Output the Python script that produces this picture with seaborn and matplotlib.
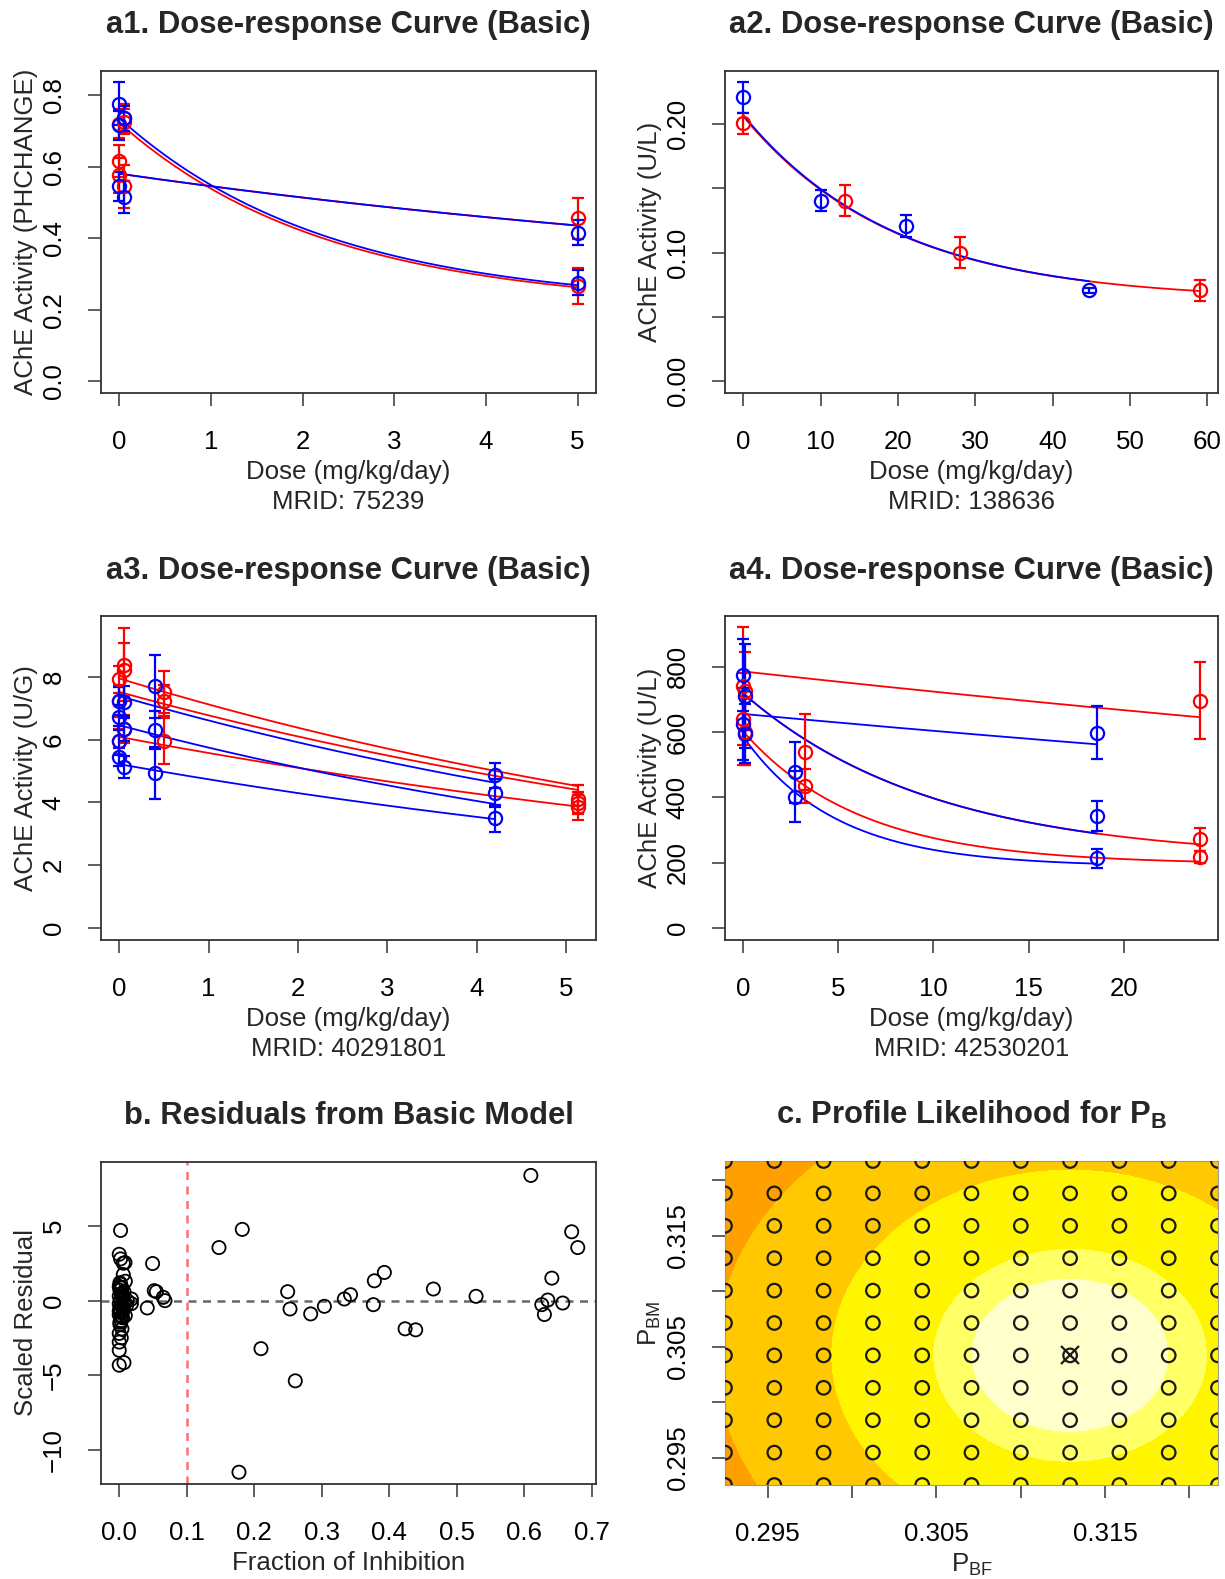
import numpy as np
import pandas as pd
import matplotlib
matplotlib.use('Agg')
import matplotlib.pyplot as plt
import seaborn as sns

sns.set_theme(style='ticks')
plt.rcParams['font.family'] = ['Liberation Sans', 'DejaVu Sans']
plt.rcParams['mathtext.fontset'] = 'custom'
plt.rcParams['mathtext.rm'] = 'Liberation Sans'
plt.rcParams['mathtext.bf'] = 'Liberation Sans:bold'
plt.rcParams['mathtext.it'] = 'Liberation Sans:italic'

BLUE = '#0000FF'
RED = '#FF0000'
FS = 18.6
TFS = 22.3

# ---------------- a1 (MRID 75239) ----------------
a1_blue_dose = [0, 0, 0.05, 0, 0.05, 5, 5]
a1_blue_mean = [0.775, 0.715, 0.735, 0.545, 0.515, 0.415, 0.275]
a1_blue_err = [0.06, 0.04, 0.035, 0.04, 0.045, 0.035, 0.035]
a1_red_dose = [0, 0.05, 0.05, 0, 0, 0.05, 5, 5]
a1_red_mean = [0.72, 0.735, 0.725, 0.615, 0.575, 0.545, 0.455, 0.265]
a1_red_err = [0.04, 0.04, 0.035, 0.045, 0.05, 0.06, 0.058, 0.05]
a1_blue_fit_top = [0.735, 0.58]
a1_blue_fit_floor = [0.21, 0.21]
a1_blue_fit_rate = [0.44, 0.0995]
a1_red_fit_top = [0.722, 0.58]
a1_red_fit_floor = [0.205, 0.21]
a1_red_fit_rate = [0.44, 0.0995]

# ---------------- a2 (MRID 138636) ----------------
a2_blue_dose = [0, 10, 21, 44.7]
a2_blue_mean = [0.221, 0.1405, 0.1205, 0.0705]
a2_blue_err = [0.012, 0.0085, 0.0085, 0.002]
a2_red_dose = [0, 13.1, 28, 59]
a2_red_mean = [0.2005, 0.1405, 0.1, 0.0705]
a2_red_err = [0.0085, 0.012, 0.012, 0.0085]
a2_blue_fit_top = [0.207]
a2_blue_fit_floor = [0.063]
a2_blue_fit_rate = [0.051]
a2_red_fit_top = [0.206]
a2_red_fit_floor = [0.063]
a2_red_fit_rate = [0.051]

# ---------------- a3 (MRID 40291801) ----------------
a3_blue_dose = [0, 0.05, 0, 0.05, 0, 0, 0.05, 0.4, 0.4, 0.4, 4.2, 4.2, 4.2]
a3_blue_mean = [7.23, 7.2, 6.72, 6.35, 5.97, 5.45, 5.12, 7.7, 6.3, 4.93, 4.87, 4.31, 3.5]
a3_blue_err = [0.45, 0.5, 0.4, 0.4, 0.45, 0.3, 0.35, 1.0, 0.6, 0.83, 0.4, 0.45, 0.43]
a3_red_dose = [0, 0.05, 0.05, 0, 0.05, 0, 0.5, 0.5, 0.5, 5.13, 5.13, 5.13]
a3_red_mean = [7.92, 8.39, 8.23, 7.23, 6.33, 5.95, 7.52, 7.24, 5.96, 4.1, 3.97, 3.85]
a3_red_err = [0.42, 1.17, 0.85, 0.5, 0.45, 0.4, 0.66, 0.5, 0.74, 0.45, 0.35, 0.4]
a3_blue_fit_top = [7.39, 6.46, 5.22]
a3_blue_fit_floor = [0, 0, 0]
a3_blue_fit_rate = [0.1113, 0.117, 0.0972]
a3_red_fit_top = [7.95, 7.52, 6.09]
a3_red_fit_floor = [0, 0, 0]
a3_red_fit_rate = [0.110, 0.1045, 0.0884]

# ---------------- a4 (MRID 42530201) ----------------
a4_blue_dose = [0, 0.1, 0, 0.1, 2.7, 2.7, 18.6, 18.6, 18.6]
a4_blue_mean = [775, 710, 625, 595, 476, 401, 598, 343, 213]
a4_blue_err = [110, 160, 110, 90, 92, 78, 82, 45, 28]
a4_red_dose = [0, 0.1, 0, 0.1, 3.27, 3.27, 24, 24, 24]
a4_red_mean = [740, 725, 640, 600, 538, 434, 695, 271, 218]
a4_red_err = [180, 120, 140, 100, 116, 52, 118, 35, 18]
a4_blue_fit_top = [655, 718, 585]
a4_blue_fit_floor = [0, 210, 188]
a4_blue_fit_rate = [0.00823, 0.1, 0.205]
a4_red_fit_top = [785, 718, 601]
a4_red_fit_floor = [0, 210, 195]
a4_red_fit_rate = [0.00818, 0.1, 0.162]

# ---------------- b (residuals) ----------------
b_fraction = [0.6095, 0.670, 0.679, 0.6406, 0.6346, 0.6257, 0.6296, 0.6567, 0.5284,
              0.4652, 0.4233, 0.4390, 0.3926, 0.3778, 0.3763, 0.3425, 0.3333, 0.3038,
              0.2835, 0.2494, 0.2529, 0.2607, 0.2099, 0.1822, 0.1773, 0.1477,
              0.0494, 0.0519, 0.055, 0.0652, 0.0677, 0.0415, 0.018, 0.018,
              0.002, 0.0, 0.002, 0.006, 0.0085, 0.006, 0.002, 0.0, 0.004, 0.001,
              0.007, 0.003, 0.0, 0.005, 0.002, 0.008, 0.0, 0.004, 0.001, 0.006,
              0.002, 0.0, 0.005, 0.003, 0.001, 0.004, 0.0, 0.0, 0.0, 0.0, 0.007,
              0.012, 0.011, 0.009, 0.009, 0.003,
              0.001, 0.004, 0.002, 0.006, 0.0, 0.003, 0.005, 0.001, 0.007, 0.002]
b_residual = [8.4, 4.62, 3.56, 1.51, 0.04, -0.27, -0.93, -0.16, 0.29,
              0.78, -1.89, -1.96, 1.89, 1.33, -0.27, 0.4, 0.11, -0.38,
              -0.89, 0.6, -0.56, -5.38, -3.22, 4.78, -11.51, 3.56,
              2.49, 0.67, 0.6, 0.22, 0.0, -0.49, 0.11, -0.2,
              4.71, 3.11, 2.8, 2.51, 2.55, 1.75, 1.1, 0.95, 0.85, 0.7,
              0.6, 0.45, 0.3, 0.2, 0.05, -0.1, -0.2, -0.35, -0.5, -0.65,
              -0.8, -0.95, -1.15, -1.35, -1.6, -1.9, -2.2, -2.78, -3.33, -4.33, -4.16,
              0.0, -0.3, 1.3, -1.0, -2.5,
              1.2, 0.5, -0.05, -0.45, -0.7, -1.1, 0.35, -1.45, -0.25, 0.9]

# ---------------- c (profile likelihood) ----------------
c_pbf_grid = np.linspace(0.29247, 0.32170, 11)
c_pbm_grid = np.linspace(0.29257, 0.32171, 11)
c_mle = (0.31293, 0.30423)
c_scale = (0.00586, 0.00692)            # deviance curvature scales
c_levels = [0, 1.0, 1.93, 5.86, 12.9, 100]
c_colors = ['#FFFFCC', '#FFFF66', '#FFF500', '#FFC800', '#FFA000']


def fit_frame(tops, floors, rates, dmax):
    rows = []
    for i, (t, f, r) in enumerate(zip(tops, floors, rates)):
        d = np.linspace(0, dmax, 200)
        rows.append(pd.DataFrame({'dose': d, 'act': f + (t - f) * np.exp(-r * d), 'curve': i}))
    return pd.concat(rows, ignore_index=True)


def style_axes(ax):
    for s in ax.spines.values():
        s.set_visible(True)
        s.set_color('#333333')
        s.set_linewidth(1.3)
    ax.tick_params(axis='both', length=9.5, width=1.1, color='#333333',
                   labelsize=FS, labelcolor='black')
    ax.tick_params(axis='x', pad=17)
    ax.tick_params(axis='y', pad=16)
    for lab in ax.get_yticklabels():
        lab.set_rotation(90)
        lab.set_va('center')
        lab.set_ha('right')


def place_labels(ax, xlabel, ylabel, width_px, height_px):
    ax.set_xlabel(xlabel, fontsize=FS, linespacing=1.32)
    ax.set_ylabel(ylabel, fontsize=FS)
    ax.xaxis.set_label_coords(0.5, -67 / height_px)
    ax.xaxis.label.set_va('top')
    ax.yaxis.set_label_coords(-75 / width_px, 0.5)
    ax.yaxis.label.set_va('center')


def dose_panel(ax, bd, bm, be, rd, rm, re_, bfit, rfit, bmax, rmax):
    rdf = fit_frame(*rfit, rmax)
    bdf = fit_frame(*bfit, bmax)
    sns.lineplot(data=rdf, x='dose', y='act', units='curve', estimator=None,
                 color=RED, lw=1.3, ax=ax)
    sns.lineplot(data=bdf, x='dose', y='act', units='curve', estimator=None,
                 color=BLUE, lw=1.3, ax=ax)
    for d, m, e, c in [(rd, rm, re_, RED), (bd, bm, be, BLUE)]:
        ax.errorbar(d, m, yerr=e, fmt='o', mfc='none', mec=c, ecolor=c, ms=9.5,
                    mew=1.6, elinewidth=1.6, capsize=4.5, capthick=1.6)


fig = plt.figure(figsize=(12.25, 15.79), dpi=100)
W, H = 1225, 1579
LX, LW = 101, 495
RX, RW = 725, 493


def add_ax(x, w, top, bottom):
    return fig.add_axes([x / W, 1 - bottom / H, w / W, (bottom - top) / H])


ax1 = add_ax(LX, LW, 71, 393)
ax2 = add_ax(RX, RW, 71, 393)
ax3 = add_ax(LX, LW, 616, 940)
ax4 = add_ax(RX, RW, 616, 940)
axb = add_ax(LX, LW, 1162, 1484)
axc = add_ax(RX, RW, 1161, 1485)

# a1
dose_panel(ax1, a1_blue_dose, a1_blue_mean, a1_blue_err, a1_red_dose, a1_red_mean, a1_red_err,
           (a1_blue_fit_top, a1_blue_fit_floor, a1_blue_fit_rate),
           (a1_red_fit_top, a1_red_fit_floor, a1_red_fit_rate), 5, 5)
ax1.set_xlim(-0.2, 5.2)
ax1.set_ylim(-0.033, 0.867)
ax1.set_xticks([0, 1, 2, 3, 4, 5])
ax1.set_yticks([0, 0.2, 0.4, 0.6, 0.8])
ax1.set_yticklabels(['0.0', '0.2', '0.4', '0.6', '0.8'])

# a2
dose_panel(ax2, a2_blue_dose, a2_blue_mean, a2_blue_err, a2_red_dose, a2_red_mean, a2_red_err,
           (a2_blue_fit_top, a2_blue_fit_floor, a2_blue_fit_rate),
           (a2_red_fit_top, a2_red_fit_floor, a2_red_fit_rate), 44.7, 59)
ax2.set_xlim(-2.36, 61.36)
ax2.set_ylim(-0.0093, 0.2413)
ax2.set_xticks([0, 10, 20, 30, 40, 50, 60])
ax2.set_yticks([0, 0.05, 0.10, 0.15, 0.20])
ax2.set_yticklabels(['0.00', '', '0.10', '', '0.20'])

# a3
dose_panel(ax3, a3_blue_dose, a3_blue_mean, a3_blue_err, a3_red_dose, a3_red_mean, a3_red_err,
           (a3_blue_fit_top, a3_blue_fit_floor, a3_blue_fit_rate),
           (a3_red_fit_top, a3_red_fit_floor, a3_red_fit_rate), 4.2, 5.13)
ax3.set_xlim(-0.205, 5.335)
ax3.set_ylim(-0.382, 9.94)
ax3.set_xticks([0, 1, 2, 3, 4, 5])
ax3.set_yticks([0, 2, 4, 6, 8])

# a4
dose_panel(ax4, a4_blue_dose, a4_blue_mean, a4_blue_err, a4_red_dose, a4_red_mean, a4_red_err,
           (a4_blue_fit_top, a4_blue_fit_floor, a4_blue_fit_rate),
           (a4_red_fit_top, a4_red_fit_floor, a4_red_fit_rate), 18.6, 24)
ax4.set_xlim(-0.96, 24.96)
ax4.set_ylim(-36.7, 954.7)
ax4.set_xticks([0, 5, 10, 15, 20])
ax4.set_yticks([0, 200, 400, 600, 800])

titles = ['a1. Dose-response Curve (Basic)', 'a2. Dose-response Curve (Basic)',
          'a3. Dose-response Curve (Basic)', 'a4. Dose-response Curve (Basic)']
ylabels = ['AChE Activity (PHCHANGE)', 'AChE Activity (U/L)',
           'AChE Activity (U/G)', 'AChE Activity (U/L)']
mrids = ['75239', '138636', '40291801', '42530201']
for ax, t, yl, m, w, h in zip([ax1, ax2, ax3, ax4], titles, ylabels, mrids,
                              [LW, RW, LW, RW], [322, 322, 324, 324]):
    style_axes(ax)
    ax.set_title(t, fontsize=TFS, fontweight='bold', pad=27)
    place_labels(ax, 'Dose (mg/kg/day)\nMRID: ' + m, yl, w, h)

# b
axb.axhline(0, color='#666666', lw=1.8, ls=(0, (3.2, 2.6)), zorder=1)
axb.axvline(0.1, color='#FF6F6F', lw=1.8, ls=(0, (3.2, 2.6)), zorder=1)
sns.scatterplot(x=b_fraction, y=b_residual, ax=axb, marker='o', s=90,
                color='black', linewidth=1.3, zorder=3)
axb.collections[-1].set_facecolor('none')
axb.collections[-1].set_edgecolor('black')
axb.set_xlim(-0.027, 0.706)
axb.set_ylim(-12.3, 9.3)
axb.set_xticks([0.0, 0.1, 0.2, 0.3, 0.4, 0.5, 0.6, 0.7])
axb.set_xticklabels(['0.0', '0.1', '0.2', '0.3', '0.4', '0.5', '0.6', '0.7'])
axb.set_yticks([-10, -5, 0, 5])
style_axes(axb)
axb.set_title('b. Residuals from Basic Model', fontsize=TFS, fontweight='bold', pad=27)
place_labels(axb, 'Fraction of Inhibition', 'Scaled Residual', LW, 322)

# c
xx = np.linspace(c_pbf_grid[0], c_pbf_grid[-1], 400)
yy = np.linspace(c_pbm_grid[0], c_pbm_grid[-1], 400)
XX, YY = np.meshgrid(xx, yy)
DEV = ((XX - c_mle[0]) / c_scale[0]) ** 2 + ((YY - c_mle[1]) / c_scale[1]) ** 2
axc.contourf(XX, YY, DEV, levels=c_levels, colors=c_colors, zorder=0)
GX, GY = np.meshgrid(c_pbf_grid, c_pbm_grid)
grid_df = pd.DataFrame({'pbf': GX.ravel(), 'pbm': GY.ravel()})
sns.scatterplot(data=grid_df, x='pbf', y='pbm', ax=axc, marker='o', s=95,
                color='#1a1a1a', linewidth=1.6, zorder=3)
axc.collections[-1].set_facecolor('none')
axc.collections[-1].set_edgecolor('#1a1a1a')
axc.plot([c_mle[0]], [c_mle[1]], marker='x', ms=13, mew=1.6, color='#1a1a1a', zorder=4)
axc.set_xlim(c_pbf_grid[0], c_pbf_grid[-1])
axc.set_ylim(c_pbm_grid[0], c_pbm_grid[-1])
axc.set_xticks([0.295, 0.300, 0.305, 0.310, 0.315, 0.320])
axc.set_xticklabels(['0.295', '', '0.305', '', '0.315', ''])
axc.set_yticks([0.295, 0.300, 0.305, 0.310, 0.315, 0.320])
axc.set_yticklabels(['0.295', '', '0.305', '', '0.315', ''])
style_axes(axc)
for s in axc.spines.values():
    s.set_color('#999999')
    s.set_linewidth(0.8)
axc.set_title(r'c. Profile Likelihood for P$_\mathbf{B}$', fontsize=TFS,
              fontweight='bold', pad=27)
place_labels(axc, r'P$_\mathrm{BF}$', r'P$_\mathrm{BM}$', RW, 324)

fig.savefig('out.png', dpi=100)
